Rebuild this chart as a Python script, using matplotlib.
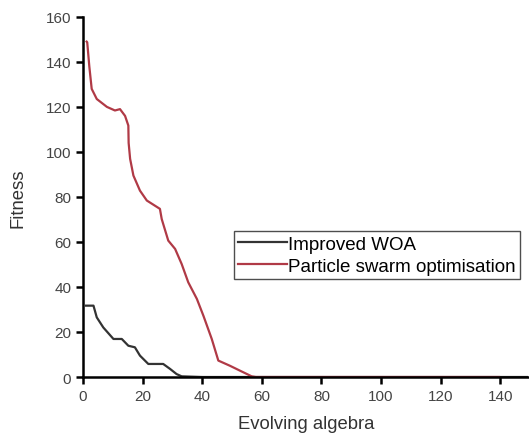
import matplotlib
matplotlib.use("Agg")
import matplotlib.pyplot as plt

# 读图估计的数据
woa_x = [1, 3.5, 4.6, 6.8, 10.2, 13, 15.2, 17.4, 19.1, 21.9, 26.9, 29.2, 31.4, 33.1, 40, 60, 100, 149]
woa_y = [31.7, 31.7, 26.5, 22, 16.9, 16.9, 13.9, 13.2, 9.5, 5.8, 5.8, 3.6, 1.3, 0.3, 0, 0, 0, 0]

pso_x = [1.2, 1.4, 2.1, 2.9, 4.6, 8, 10.7, 12.4, 14.1, 15.2, 15.3, 15.8, 16.9, 19.1, 21.4, 25.8,
         26.4, 26.9, 28.6, 30.9, 33.1, 35.3, 38.2, 40.4, 43.2, 45.4, 49.3, 52.7, 56.6, 58, 100, 139.6]
pso_y = [149, 148.7, 138, 128, 123.5, 120, 118.4, 119, 116, 111.7, 104, 96.9, 89.5, 82.8, 78.4, 74.7,
         70.2, 68, 60.6, 56.9, 50.2, 42.1, 34.7, 27.2, 16.9, 7.3, 5, 2.8, 0.3, 0, 0, 0]

x_ticks = [0, 20, 40, 60, 80, 100, 120, 140]
y_ticks = [0, 20, 40, 60, 80, 100, 120, 140, 160]

plt.rcParams['font.family'] = ['Liberation Sans', 'DejaVu Sans']

fig = plt.figure(figsize=(5.29, 4.35), dpi=100)
ax = fig.add_axes([0.157, 0.131, 0.842, 0.828])

ax.plot(woa_x, woa_y, color='#333333', lw=1.6, label='Improved WOA')
ax.plot(pso_x, pso_y, color='#b03a46', lw=1.6, label='Particle swarm optimisation')

ax.set_xlim(0, 149.5)
ax.set_ylim(0, 160)
ax.set_xticks(x_ticks)
ax.set_yticks(y_ticks)

for s in ['top', 'right']:
    ax.spines[s].set_visible(False)
for s in ['left', 'bottom']:
    ax.spines[s].set_linewidth(1.8)
ax.tick_params(direction='out', length=5, width=1.8, labelsize=11, labelcolor='#444444')

ax.set_xlabel('Evolving algebra', fontsize=13.3, color='#333333', labelpad=9)
ax.set_ylabel('Fitness', fontsize=13.3, color='#333333', labelpad=14)

leg = ax.legend(loc='upper left', bbox_to_anchor=(0.338, 0.405), fontsize=13.5,
                frameon=True, fancybox=False, handlelength=2.6, handletextpad=0.05,
                borderpad=0.25, labelspacing=0.25, borderaxespad=0)
leg.get_frame().set_edgecolor('#222222')
leg.get_frame().set_linewidth(1.0)

fig.savefig('out.png', dpi=100)
